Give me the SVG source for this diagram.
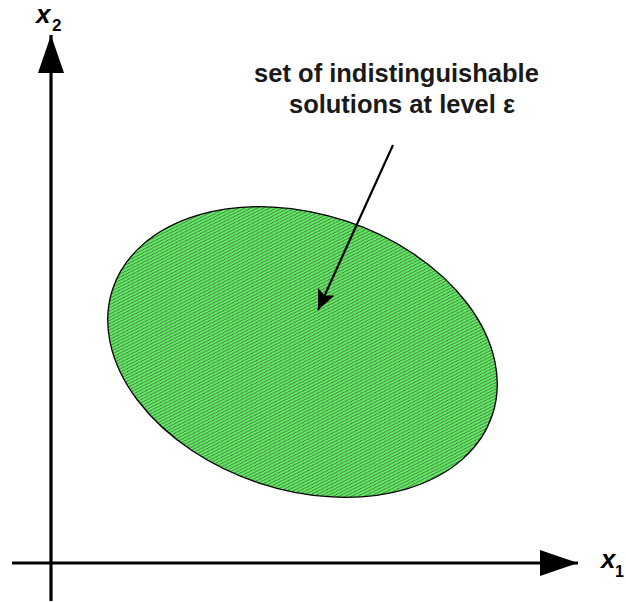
<svg xmlns="http://www.w3.org/2000/svg" width="626" height="602" viewBox="0 0 626 602">
  <style>
    .axis { stroke: #000; stroke-width: 3.2; fill: none; }
    .lbl { font-family: "Liberation Sans", Arial, sans-serif; font-weight: bold; fill: #000; }
    .note { font-family: "Liberation Sans", Arial, sans-serif; font-weight: bold; font-size: 25.5px; fill: #1a1a1a; text-anchor: middle; }
  </style>
  <defs>
    <pattern id="hatch" patternUnits="userSpaceOnUse" x="0" y="0" width="4" height="4">
      <rect x="0" y="0" width="4" height="4" fill="#5cf05c"/>
      <path d="M-1,5 L5,-1 M-1,1 L1,-1 M3,5 L5,3" stroke="#555555" stroke-width="1.0" fill="none"/>
    </pattern>
    <marker id="axhead" markerUnits="userSpaceOnUse" markerWidth="40" markerHeight="28" viewBox="0 0 40 28" refX="38" refY="13" orient="auto">
      <path d="M0,0 L38,13 L0,26 Z" fill="#000"/>
    </marker>
    <marker id="notehead" markerUnits="userSpaceOnUse" markerWidth="22" markerHeight="18" viewBox="0 0 22 18" refX="20" refY="9" orient="auto">
      <path d="M0,0 L20,9 L0,18 L4,9 Z" fill="#000"/>
    </marker>
  </defs>

  <g id="region">
    <ellipse cx="302.5" cy="352" rx="200" ry="138" transform="rotate(18.3 302.5 352)" fill="url(#hatch)" stroke="#000" stroke-width="1.3"/>
  </g>

  <g id="axes">
    <line id="x2-axis" class="axis" x1="51" y1="601" x2="51" y2="35" marker-end="url(#axhead)"/>
    <line id="x1-axis" class="axis" x1="12" y1="563" x2="578" y2="563" marker-end="url(#axhead)"/>
  </g>

  <g id="x2-label">
    <text class="lbl" x="36" y="23" font-size="26" font-style="italic">x</text>
    <text class="lbl" x="52" y="31" font-size="17">2</text>
  </g>
  <g id="x1-label">
    <text class="lbl" x="601" y="568" font-size="26" font-style="italic">x</text>
    <text class="lbl" x="615" y="577" font-size="16">1</text>
  </g>

  <g id="annotation">
    <text class="note" x="396.5" y="82">set of indistinguishable</text>
    <text class="note" x="402" y="113">solutions at level ε</text>
  </g>

  <g id="connectors">
    <line x1="393" y1="145" x2="318" y2="310" stroke="#000" stroke-width="2.2" marker-end="url(#notehead)"/>
  </g>
</svg>
